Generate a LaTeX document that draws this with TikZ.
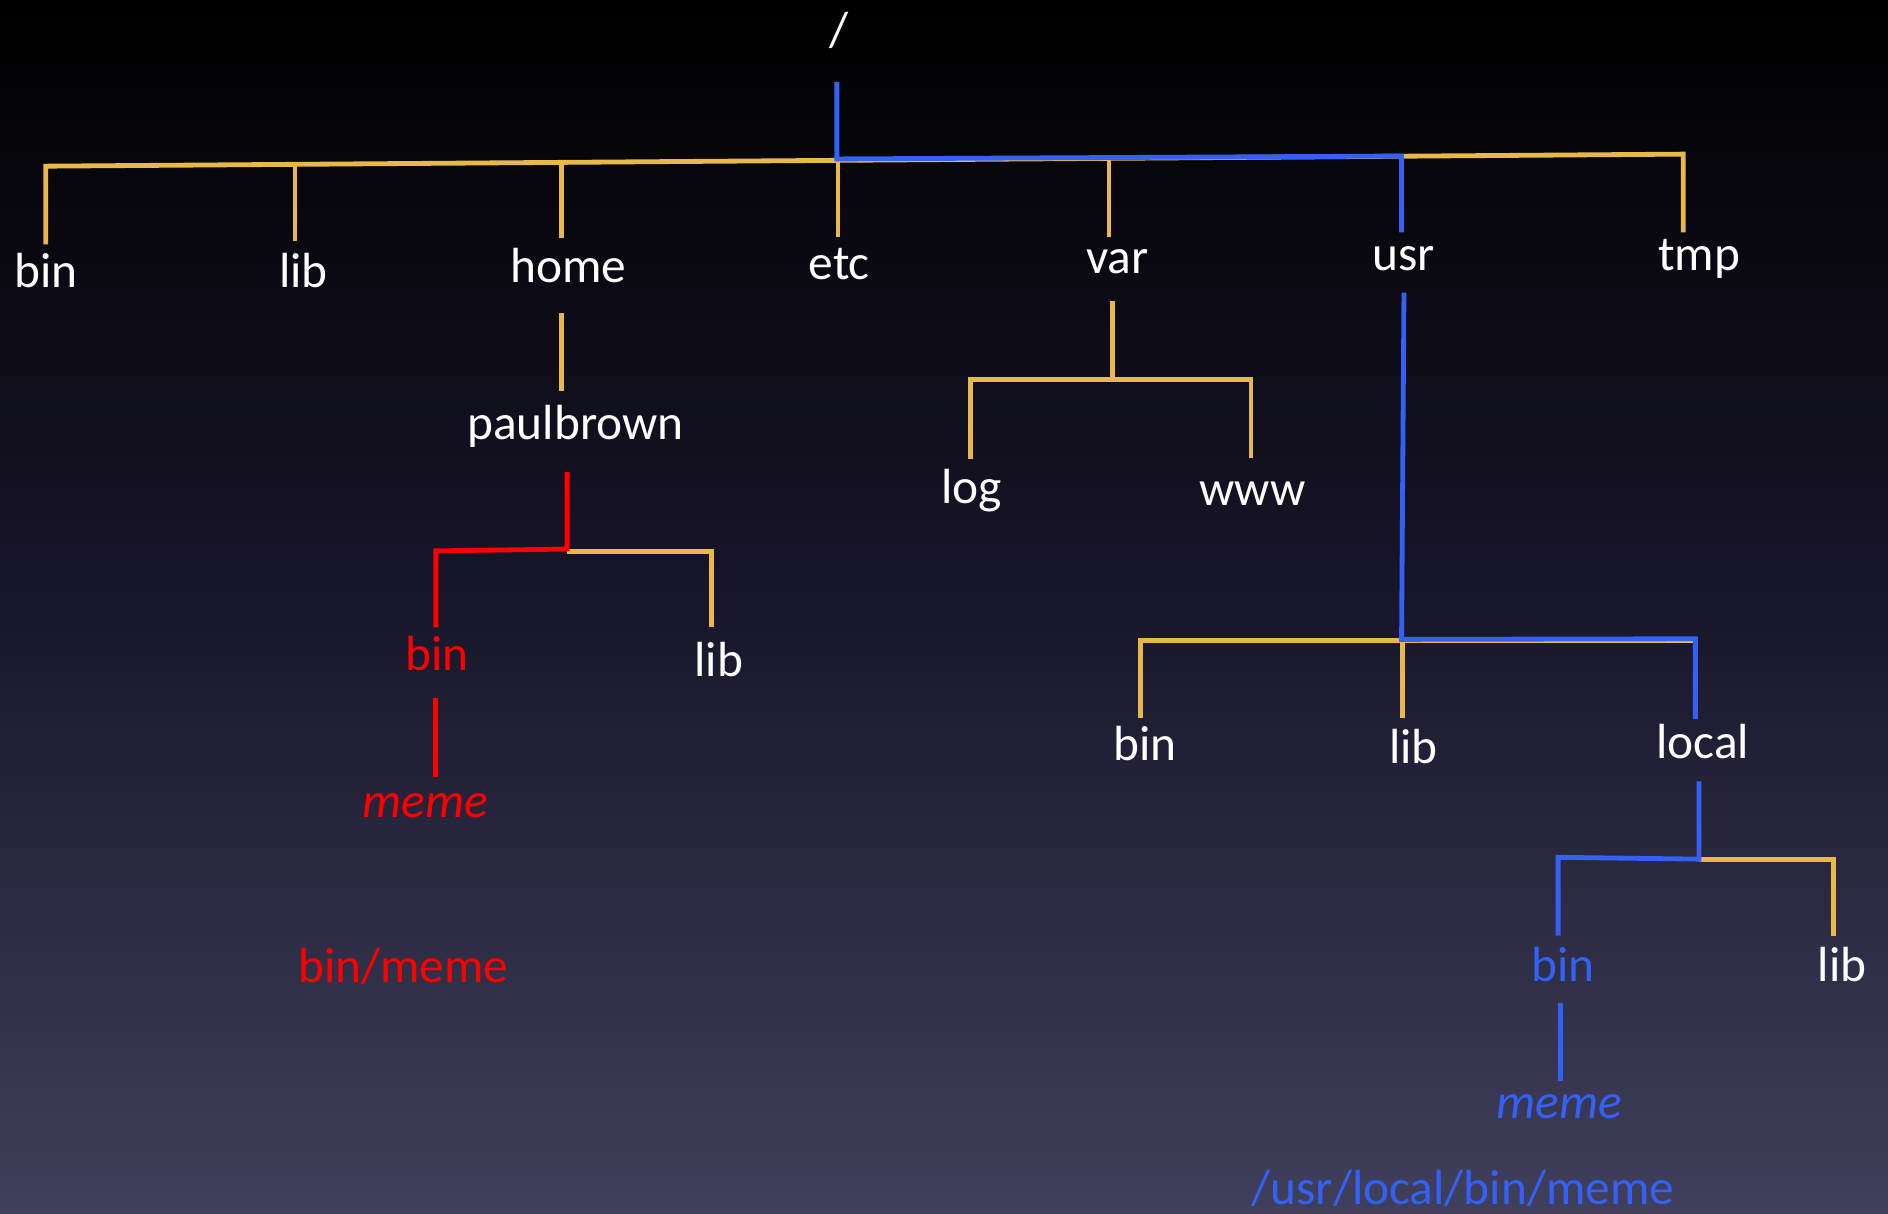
\documentclass[tikz,border=0pt]{standalone}
\usepackage{fontspec}
\setmainfont{Carlito}
\definecolor{ybar}{RGB}{232,185,72}
\definecolor{bpath}{RGB}{52,96,245}
\definecolor{rpath}{RGB}{255,0,0}
\definecolor{bgbot}{RGB}{64,64,92}
\definecolor{bgmid}{RGB}{24,22,42}
\begin{document}
\begin{tikzpicture}[x=0.5pt,y=-0.5pt,
  lbl/.style={anchor=base,inner sep=0pt,text=white,font=\fontsize{20.5}{24}\selectfont},
  redlbl/.style={lbl,text=rpath},
  bluelbl/.style={lbl,text=bpath},
  ital/.style={font=\fontsize{20.5}{24}\selectfont\itshape},
  yline/.style={draw=ybar,line width=2pt,line join=miter},
  bline/.style={draw=bpath,line width=2pt,line join=miter},
  rline/.style={draw=rpath,line width=2pt,line join=miter}]
\useasboundingbox (0,0) rectangle (1568,1008);
\shade[top color=black,bottom color=bgbot,middle color=bgmid] (0,0) rectangle (1568,1008);

% labels
\node[lbl] (root) at (697,39) {/};
\node[lbl] (bin1) at (38,239) {bin};
\node[lbl] (lib1) at (252,239) {lib};
\node[lbl] (home) at (472,235) {home};
\node[lbl] (etc) at (697,232) {etc};
\node[lbl] (var) at (928,227) {var};
\node[lbl] (usr) at (1166,225) {usr};
\node[lbl] (tmp) at (1411,225) {tmp};
\node[lbl] (paul) at (478,365) {paulbrown};
\node[redlbl] (pbin) at (363,557) {bin};
\node[lbl] (plib) at (597,562) {lib};
\node[redlbl,ital] (pmeme) at (353,679) {meme};
\node[redlbl] (relpath) at (335,816) {bin/meme};
\node[lbl] (log) at (807,418) {log};
\node[lbl] (www) at (1040,420) {www};
\node[lbl] (ubin) at (951,632) {bin};
\node[lbl] (ulib) at (1174,634) {lib};
\node[lbl] (local) at (1414,630) {local};
\node[bluelbl] (lbin) at (1298,815) {bin};
\node[lbl] (llib) at (1530,815) {lib};
\node[bluelbl,ital] (lmeme) at (1295,929) {meme};
\node[bluelbl] (abspath) at (1215,1000) {/usr/local/bin/meme};

% junction coordinates
\coordinate (barL) at (38,138);
\coordinate (barR) at (1398,128);
\coordinate (jroot) at (695,132);
\coordinate (jusr) at (1164,129.6);

% top level (yellow)
\draw[yline] (38,203) -- (barL) -- (barR) -- (1398,193);
\draw[yline] (245,136.5) -- (245,200);
\draw[yline] (466,135) -- (466,198);
\draw[yline] (696,133) -- (696,197);
\draw[yline] (921,131.5) -- (921,197);
% home -> paulbrown
\draw[yline] (466,260) -- (466,325);
% paulbrown children
\draw[yline] (471,458) -- (591,458) -- (591,521);
% var children
\draw[yline] (924,250) -- (924,315);
\draw[yline] (806,381) -- (806,315) -- (1039,315) -- (1039,380);
% usr children
\draw[yline] (947,596) -- (947,532) -- (1408,532);
\draw[yline] (1165,532) -- (1165,596);
% local children
\draw[yline] (1411,714) -- (1523,714) -- (1523,777);

% blue path
\draw[bline] (695,68) -- (jroot) -- (jusr) -- (1164,193);
\draw[bline] (1166,243) -- (1164,531) -- (1408,530.5) -- (1408,597);
\draw[bline] (1411,649) -- (1411,713.5) -- (1294,712) -- (1294,777);
\draw[bline] (1296,833) -- (1296,898);

% red path
\draw[rline] (471,392) -- (471,456) -- (362,457.5) -- (362,521);
\draw[rline] (362,580) -- (362,645);
\end{tikzpicture}
\end{document}
